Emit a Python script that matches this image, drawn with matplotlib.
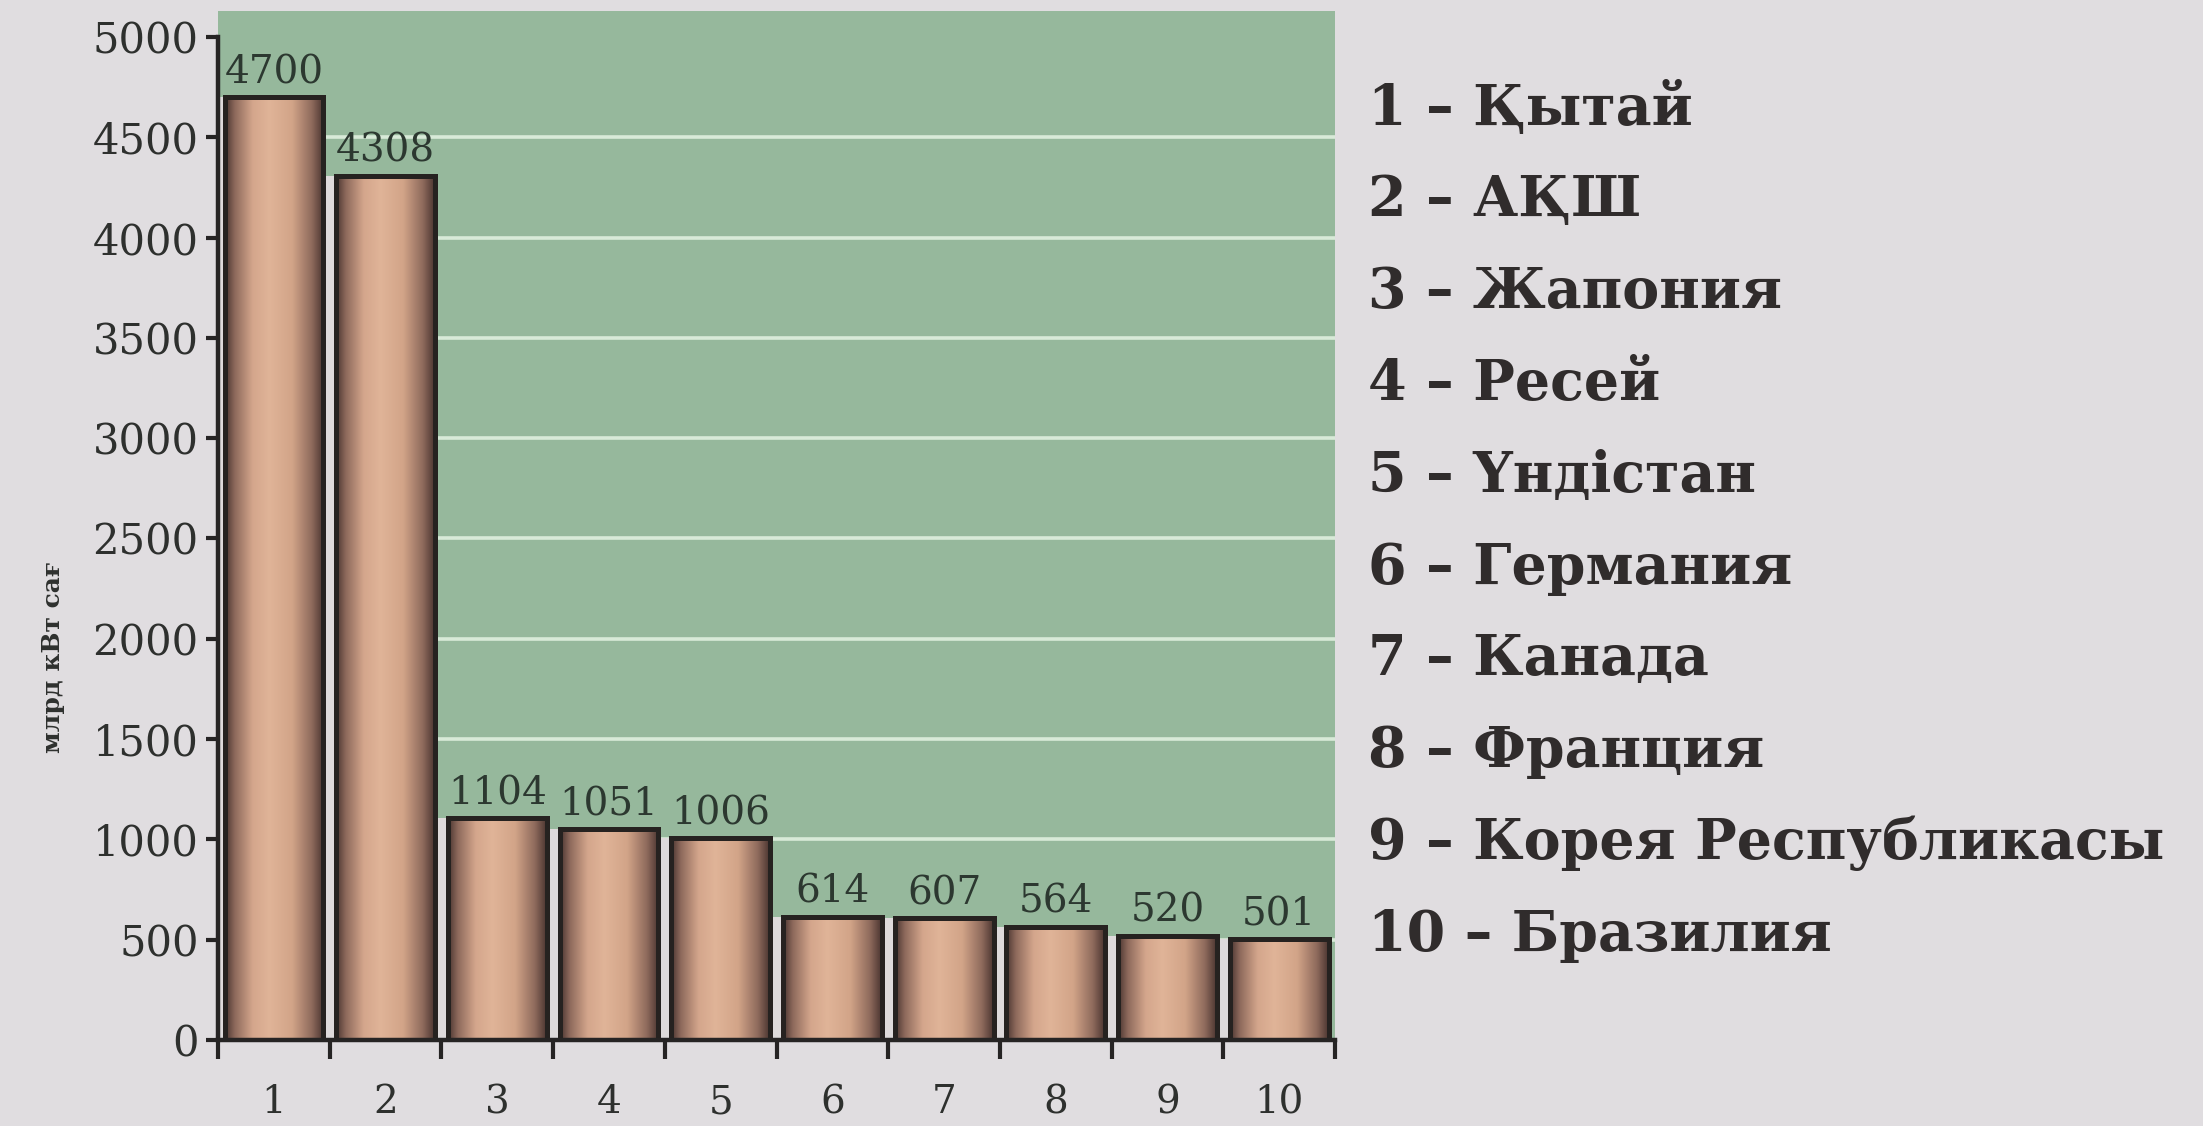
import numpy as np
import matplotlib
matplotlib.use("Agg")
import matplotlib.pyplot as plt
from matplotlib.colors import LinearSegmentedColormap

# ---- data ----
categories = [1, 2, 3, 4, 5, 6, 7, 8, 9, 10]
values = [4700, 4308, 1104, 1051, 1006, 614, 607, 564, 520, 501]
country_names = ["Қытай", "АҚШ", "Жапония", "Ресей", "Үндістан", "Германия",
                 "Канада", "Франция", "Корея Республикасы", "Бразилия"]
y_ticks = [0, 500, 1000, 1500, 2000, 2500, 3000, 3500, 4000, 4500, 5000]
y_label = "млрд кВт сағ"

# ---- style ----
paper = "#e0dde0"
green = "#96b89c"
grid_c = "#d8ead8"
text_c = "#2e302e"
serif = ["DejaVu Serif"]

fig = plt.figure(figsize=(22.03, 11.26), dpi=100, facecolor=paper)
ax = fig.add_axes([0.099, 0.0764, 0.507, 0.914])
ax.set_facecolor(paper)

x = np.array(categories, dtype=float)
v = np.array(values, dtype=float)
bw = 0.885

# green panel
ax.axvspan(0.5, 10.5, ymin=0, ymax=1, color=green, zorder=0, lw=0)
# white gridlines
for t in y_ticks[1:-1]:
    ax.axhline(t, color=grid_c, lw=2.6, zorder=1)
# light gaps between adjacent bars
gap_x = x[:-1] + 0.5
gap_h = np.minimum(v[:-1], v[1:])
ax.bar(gap_x, gap_h, width=1 - bw + 0.02, color="#dedadb", zorder=2, lw=0)
ax.bar([x[0] - 0.5], [v[0]], width=(1 - bw) + 0.02, color="#dedadb", zorder=2, lw=0)

# bars with cylindrical gradient
cmap = LinearSegmentedColormap.from_list(
    "cyl", [(0.0, "#4a3430"), (0.1, "#8e6a5c"), (0.28, "#d4a68c"),
            (0.45, "#e0b498"), (0.68, "#d2a488"), (0.88, "#8e6a5c"), (1.0, "#4a3430")])
grad = np.linspace(0, 1, 256).reshape(1, -1)
bars = ax.bar(x, v, width=bw, facecolor="none", edgecolor="#262220", lw=3.6, zorder=4)
for b in bars:
    x0, w, h = b.get_x(), b.get_width(), b.get_height()
    im = ax.imshow(grad, cmap=cmap, aspect="auto", extent=(x0, x0 + w, 0, h),
                   zorder=3, interpolation="bilinear")
    im.set_clip_path(b)
ax.set_xlim(0.5, 10.5)
ax.set_ylim(0, 5130)

# value labels
for xi, vi in zip(x, v):
    ax.text(xi, vi + 30, f"{int(vi)}", ha="center", va="bottom",
            fontsize=28, family=serif, color="#2c3830", zorder=5)

# axes styling
for s in ["top", "right"]:
    ax.spines[s].set_visible(False)
ax.spines["left"].set_bounds(0, 5000)
for s in ["left", "bottom"]:
    ax.spines[s].set_linewidth(3.2)
    ax.spines[s].set_color("#262424")
    ax.spines[s].set_zorder(6)

ax.set_yticks(y_ticks)
ax.set_yticklabels([str(t) for t in y_ticks], family=serif, fontsize=30, color=text_c)
ax.tick_params(axis="y", length=9, width=3, color="#262424", pad=5)

ax.set_xticks(np.arange(0.5, 10.6, 1.0))
ax.set_xticklabels([])
ax.tick_params(axis="x", which="major", length=14, width=3, color="#262424")
ax.set_xticks(x, minor=True)
ax.set_xticklabels([str(c) for c in categories], minor=True, family=serif,
                   fontsize=28, color=text_c)
ax.tick_params(axis="x", which="minor", length=0, pad=32)

fig.text(0.024, 0.417, y_label, rotation=90, ha="center", va="center",
         fontsize=18, fontweight="bold", family=serif, color=text_c)

# legend list
y_top = 0.903
step = 0.0815
for i, (c, name) in enumerate(zip(categories, country_names)):
    fig.text(0.621, y_top - i * step, f"{c} – {name}", ha="left", va="center",
             fontsize=40, fontweight="bold", family=serif, color="#302c2c")

fig.savefig("out.png", dpi=100, facecolor=paper)
